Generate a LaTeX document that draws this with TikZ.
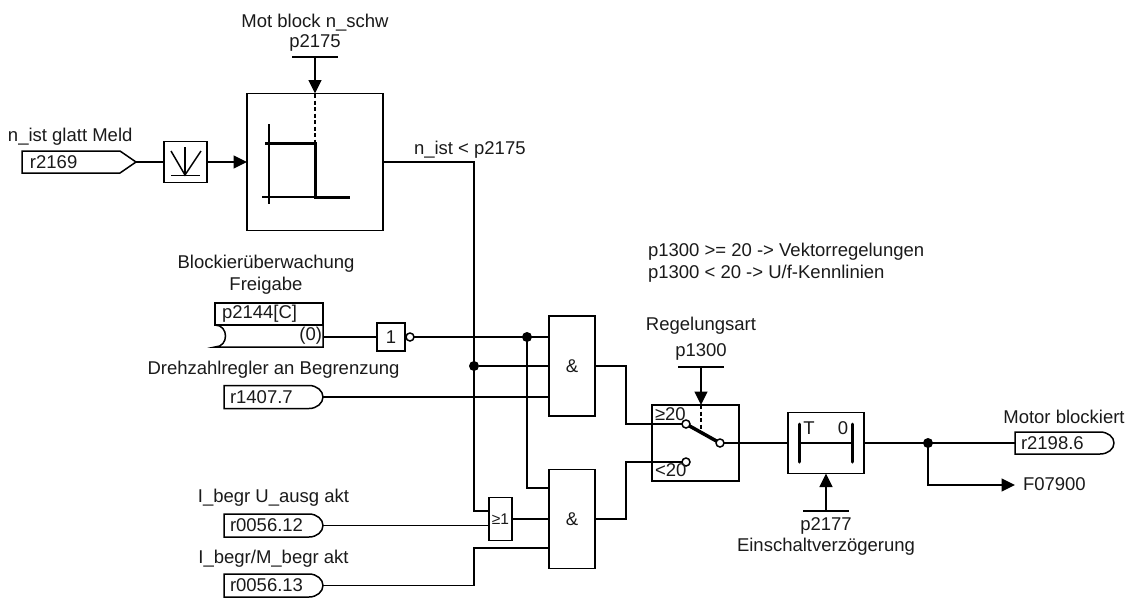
\documentclass[tikz,border=0pt]{standalone}
\usepackage{fontspec}
\setmainfont{Liberation Sans}
\usetikzlibrary{arrows.meta,calc}
\definecolor{ink}{HTML}{1A1A1A}
\tikzset{
  every node/.style={font=\fontsize{18.5}{22}\selectfont,text=ink,inner sep=0pt,outer sep=0pt},
  wire/.style={draw=black,line width=1.5pt,line join=miter},
  boxline/.style={draw=black,line width=1.5pt,fill=white},
  blk/.style={boxline},
  sig/.style={inner xsep=6pt,align=left,anchor=center},
  arr/.style={wire,-{Triangle[length=13.5pt,width=13pt]}},
  thick2/.style={draw=black,line width=3pt},
  thin2/.style={draw=black,line width=1.2pt},
  dot/.style={circle,fill=black,minimum size=10pt},
  ring/.style={circle,draw=black,line width=1.5pt,fill=white,minimum size=8pt},
  dash2/.style={draw=black,line width=1.5pt,dash pattern=on 4pt off 2.5pt},
}
\newcommand{\roundend}[1]{\draw[boxline,fill=none] (#1.east) .. controls ([yshift=6pt]#1.east) and ([xshift=-6pt]#1.north east) .. ([xshift=-14pt]#1.north east) -- (#1.north west) -- (#1.south west) -- ([xshift=-14pt]#1.south east) .. controls ([xshift=-6pt]#1.south east) and ([yshift=-6pt]#1.east) .. (#1.east);}
\begin{document}
\begin{tikzpicture}[x=1pt,y=-1pt]
\useasboundingbox (0,0) rectangle (1128,598);
% labels
\node (tMot) at (315,22.5) {Mot block n\_schw};
\node (tp2175) at (315,43) {p2175};
\node[anchor=west] (tnist) at (8,137) {n\_ist glatt Meld};
\node[anchor=west] (tlt) at (414,149.5) {n\_ist < p2175};
\node (tBl) at (266,263.5) {Blockierüberwachung};
\node (tFr) at (266,286) {Freigabe};
\node (tDr) at (273.5,370) {Drehzahlregler an Begrenzung};
\node (tIu) at (273.5,498) {I\_begr U\_ausg akt};
\node (tIm) at (273.5,559) {I\_begr/M\_begr akt};
\node[anchor=west] (tv1) at (648,251.5) {p1300 >= 20 -> Vektorregelungen};
\node[anchor=west] (tv2) at (648,274) {p1300 < 20 -> U/f-Kennlinien};
\node (tRg) at (701,326) {Regelungsart};
\node (tp1300) at (701,351.5) {p1300};
\node (tp2177) at (826,526) {p2177};
\node (tEin) at (826,546.5) {Einschaltverzögerung};
\node (tMb) at (1064,416.5) {Motor blockiert};
\node[anchor=west] (tF) at (1023,484.5) {F07900};
% blocks
\node[blk,minimum width=43pt,minimum height=41pt] (filt) at (185.5,162) {};
\node[blk,minimum width=136pt,minimum height=137pt] (thr) at (315,162) {};
\node[blk,minimum width=28pt,minimum height=28pt] (inv) at (391,337) {1};
\node[blk,minimum width=46pt,minimum height=100pt] (and1) at (572,366) {\&};
\node[blk,minimum width=23pt,minimum height=43pt] (or1) at (500.5,519) {\fontsize{15.5}{17}\selectfont ≥1};
\node[blk,minimum width=46pt,minimum height=99pt] (and2) at (572,519) {\&};
\node[blk,minimum width=87pt,minimum height=76pt] (sw) at (695.5,443) {};
\node[blk,minimum width=76pt,minimum height=61pt] (tim) at (826,443) {};
% signals
\node[sig,minimum width=114pt,minimum height=22pt,text width=98pt,inner xsep=8pt] (r2169) at (79,162) {r2169};
\node[sig,minimum width=108pt,minimum height=22pt,text width=94pt,inner xsep=7pt] (p2144a) at (269,314) {p2144[C]};
\node[minimum width=108pt,minimum height=22pt] (p2144b) at (269,336) {};
\node[anchor=east] (p2144v) at (322,336) {(0)};
\node[sig,minimum width=99pt,minimum height=23pt,text width=87pt] (r1407) at (273.5,397) {r1407.7};
\node[sig,minimum width=99pt,minimum height=23pt,text width=87pt] (r12) at (273.5,525.5) {r0056.12};
\node[sig,minimum width=99pt,minimum height=23pt,text width=87pt] (r13) at (273.5,585.5) {r0056.13};
\node[sig,minimum width=99pt,minimum height=22pt,text width=87pt] (r2198) at (1064.5,443) {r2198.6};
\draw[boxline,fill=none] (r2169.north west) -- ([xshift=-16pt]r2169.north east) -- (r2169.east) -- ([xshift=-16pt]r2169.south east) -- (r2169.south west) -- cycle;
\draw[boxline,fill=none] (p2144a.north west) rectangle (p2144a.south east);
\draw[boxline,fill=none] (p2144b.north west) .. controls ([xshift=14pt]p2144b.north west) and ([xshift=14pt]p2144b.south west) .. (p2144b.south west) -- (p2144b.south east) -- (p2144b.north east);
\roundend{r1407}\roundend{r12}\roundend{r13}\roundend{r2198}
% coordinates and terminals
\coordinate (b2175) at (315,57);
\draw[wire] ([xshift=-23pt]b2175) -- ([xshift=23pt]b2175);
\coordinate (b1300) at (701,367);
\draw[wire] ([xshift=-23pt]b1300) -- ([xshift=23pt]b1300);
\coordinate (b2177) at (826,511);
\draw[wire] ([xshift=-23pt]b2177) -- ([xshift=23pt]b2177);
\node[dot] (d1) at (474,366) {};
\node[dot] (d2) at (527,337) {};
\node[dot] (d3) at (928,443) {};
\node[ring] (nc) at (410,337) {};
% wires
\draw[wire] (r2169.east) -- (filt.west);
\draw[arr] (filt.east) -- (thr.west);
\draw[arr] (b2175) -- (b2175 |- thr.north);
\draw[arr] (b1300) -- (b1300 |- sw.north);
\draw[arr] (b2177) -- (b2177 |- tim.south);
\draw[wire] (thr.east) -| (d1.center) |- (or1.west |- 0,511);
\draw[wire] (p2144b.east |- inv) -- (inv.west);
\draw[wire] (nc.east) -- (and1.west |- nc);
\draw[wire] (d1) -- (and1.west |- d1);
\draw[wire] (r1407.east) -- (and1.west |- r1407);
\draw[wire] (d2.center) |- (and2.west |- 0,488);
\draw[wire] (r12.east) -- (or1.west |- r12);
\draw[wire] (or1.east) -- (and2.west);
\draw[wire] (r13.east) -| (474,548) -- (and2.west |- 0,548);
\node[ring] (c1) at (686,424) {};
\node[ring] (c2) at (686,462) {};
\node[ring] (c3) at (720,443) {};
\draw[wire] (and1.east) -| (626,424) -- (c1.west);
\draw[wire] (and2.east) -| (626,462) -- (c2.west);
\draw[wire] (c3.east) -- (tim.west |- c3);
\draw[wire] (tim.east) -- (r2198.west);
\draw[arr] (d3.center) |- (1015,485);
\draw[line width=3.5pt] (c1) -- (c3);
\draw[dash2] (701,405) -- (701,429);
\node[anchor=west] (ge20) at (655,414) {≥20};
\node[anchor=west] (lt20) at (655,470) {<20};
% timer
\draw[thick2,line cap=round] (799,424) -- (799,462);
\draw[thick2,line cap=round] (852,424) -- (852,462);
\draw[wire] (799,443) -- (852,443);
\node (tT) at (809,428) {T};
\node (t0) at (843,428) {0};
% threshold graphic
\draw[dash2] (315,94) -- (315,143);
\draw[thin2] (269,124) -- (269,204);
\draw[thin2] (262,197) -- (315,197);
\draw[thick2,line join=miter] (265,143) -- (315,143) -- (315,197) -- (350,197);
% filter graphic
\draw[thin2] (185,147) -- (185,175);
\draw[wire] (171,151) -- (185,175) -- (201,151);
\draw[thin2] (171,175.5) -- (200,175.5);
\end{tikzpicture}
\end{document}
